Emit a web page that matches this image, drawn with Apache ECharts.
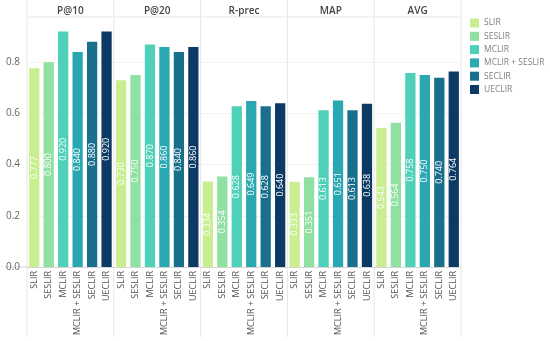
<!DOCTYPE html>
<html><head><meta charset="utf-8">
<script src="https://cdn.jsdelivr.net/npm/echarts@6/dist/echarts.min.js"></script>
<style>html,body{margin:0;padding:0;background:#fff}#c{width:550px;height:341px}</style>
</head><body><div id="c"></div>
<script>
const categories = ['SLIR','SESLIR','MCLIR','MCLIR + SESLIR','SECLIR','UECLIR'];
const metrics = ['P@10','P@20','R-prec','MAP','AVG'];
const p10  = [0.777, 0.800, 0.920, 0.840, 0.880, 0.920];
const p20  = [0.730, 0.750, 0.870, 0.860, 0.840, 0.860];
const rprec= [0.334, 0.354, 0.628, 0.649, 0.628, 0.640];
const map  = [0.333, 0.351, 0.613, 0.651, 0.613, 0.638];
const avg  = [0.543, 0.564, 0.758, 0.750, 0.740, 0.764];
const values = [p10, p20, rprec, map, avg];
const colors = ['#c8ee90','#90e0a2','#4fd0b8','#2aa8b2','#1a6f8c','#0c3a64'];

const L = 27, W = 86.8, TOP = 17, AXY = 267, FONT = "'Open Sans', sans-serif";
const grids = [], xAxes = [], yAxes = [], series = [], graphic = [];
metrics.forEach((m, i) => {
  grids.push({left: L + i * W, width: W, top: TOP, bottom: 341 - AXY});
  xAxes.push({type: 'category', gridIndex: i, data: categories,
    axisTick: {show: false},
    axisLine: {lineStyle: {color: '#d6d6d6'}},
    axisLabel: {rotate: 90, fontSize: 9, color: '#555', margin: 4, fontFamily: FONT, interval: 0}});
  yAxes.push({type: 'value', gridIndex: i, min: 0, max: 0.977, interval: 0.2,
    axisLine: {show: false}, axisTick: {show: false},
    splitLine: {lineStyle: {color: '#f3f3f3'}},
    axisLabel: {show: i === 0, showMaxLabel: false, fontSize: 10, color: '#666', margin: 7, fontFamily: FONT,
      formatter: v => v.toFixed(1)}});
  categories.forEach((c, k) => {
    series.push({type: 'bar', name: c, xAxisIndex: i, yAxisIndex: i, stack: 's' + i,
      barWidth: '71%', itemStyle: {color: colors[k]},
      data: categories.map((_, j) => j === k ? values[i][k] : '-'),
      label: {show: true, position: 'inside', rotate: 90, color: '#fff', fontSize: 9, fontFamily: FONT,
        formatter: p => p.value.toFixed(3)}});
  });
  graphic.push({type: 'text', x: L + i * W + W / 2, y: 11,
    style: {text: m, align: 'center', verticalAlign: 'middle', fontSize: 10, fontWeight: 600, fill: '#444', fontFamily: FONT}});
});
for (let i = 0; i <= metrics.length; i++) {
  graphic.push({type: 'line', shape: {x1: L + i * W, y1: 0, x2: L + i * W, y2: 337},
    style: {stroke: '#e6e6e6', lineWidth: 1}, z: 0});
}
graphic.push({type: 'line', shape: {x1: L, y1: TOP, x2: L + 5 * W, y2: TOP}, style: {stroke: '#e6e6e6', lineWidth: 1}});
graphic.push({type: 'line', shape: {x1: 5, y1: AXY, x2: L, y2: AXY}, style: {stroke: '#d6d6d6', lineWidth: 1}});

const chart = echarts.init(document.getElementById('c'));
chart.setOption({
  animation: false,
  grid: grids, xAxis: xAxes, yAxis: yAxes, series: series, graphic: graphic,
  legend: {data: categories, orient: 'vertical', left: 470, top: 18.5, padding: 0,
    itemWidth: 9, itemHeight: 9, itemGap: 4.3,
    icon: 'rect', textStyle: {fontSize: 8.5, lineHeight: 9, color: '#808080', fontFamily: FONT,
      overflow: 'none'}}
});
</script></body></html>
